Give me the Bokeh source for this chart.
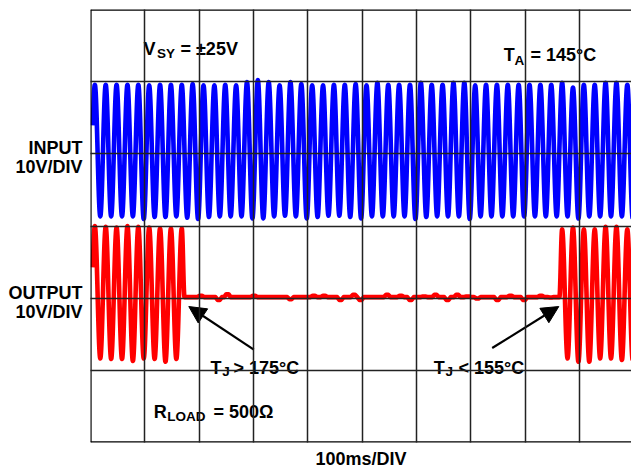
import numpy as np
from bokeh.plotting import figure
from bokeh.models import Label, BoxAnnotation, Arrow, NormalHead, Span, FixedTicker, Range1d
from bokeh.embed import file_html
from bokeh.resources import INLINE

# ---------------- data ----------------
PERIOD_MS = 20.0          # 50 Hz sine, 5 cycles per 100 ms division
FIRST_PEAK_MS = 8.0
TRACE_START_MS = 4.2
X_END_MS = 995.7          # the screen is cut at the right edge of the picture

# input trace (volts, relative to its ground line)
input_pre_trough_v = -8.65
input_peaks_v = [9.56, 9.56, 9.56, 9.56, 9.56, 9.47, 9.56, 9.56, 9.56, 9.65,
                 9.47, 9.47, 9.56, 9.47, 9.93, 10.2, 9.93, 9.47, 9.93, 9.65,
                 9.47, 9.47, 9.56, 9.56, 9.65, 9.47, 9.84, 9.56, 9.56, 9.56,
                 9.84, 9.56, 9.56, 9.84, 9.84, 9.47, 9.56, 9.56, 9.56, 9.56,
                 9.56, 9.56, 9.56, 9.84, 9.19, 9.56, 9.56, 9.84, 9.84, 9.56]
input_troughs_v = [-8.65, -8.65, -8.65, -8.65, -9.02, -8.74, -8.74, -8.65, -8.83, -9.02,
                   -8.74, -8.65, -8.65, -8.65, -8.93, -8.93, -8.65, -8.55, -8.65, -8.93,
                   -8.74, -8.55, -8.55, -8.74, -8.93, -8.65, -8.65, -8.65, -8.65, -9.02,
                   -8.74, -8.65, -8.65, -8.65, -9.02, -8.65, -8.65, -8.65, -8.65, -8.65,
                   -8.65, -8.65, -8.65, -8.65, -8.93, -8.65, -8.65, -8.65, -8.65, -8.93]

# output trace: running, thermal shutdown (flat), restart
out_pre_trough_v = -8.5
out_a_peaks_v = [9.97, 9.88, 9.79, 9.97, 9.88, 9.79, 9.65, 9.65, 9.65]
out_a_troughs_v = [-8.33, -8.42, -8.42, -8.7, -8.33, -8.42, -8.8, -8.42]
out_off_ms = 173.0
out_on_ms = 863.0
out_b_first_cycle = 43
out_b_peaks_v = [9.52, 9.79, 9.52, 9.52, 9.88, 9.88, 9.52]
out_b_troughs_v = [-8.33, -8.8, -8.8, -8.33, -8.33, -8.56, -8.56]
out_flat_v = 0.15
out_bump_ms = [203, 236, 252, 301, 368, 411, 430, 460, 485, 497, 546, 571, 589,
               614, 635, 657, 675, 694, 712, 749, 773, 798, 829, 847]
out_bump_v = [0.32, -0.23, 0.55, 0.32, -0.14, 0.32, 0.32, -0.23, 0.46, -0.23, 0.46, 0.32, -0.23,
              0.23, 0.46, -0.23, 0.46, 0.23, -0.05, -0.23, 0.32, -0.23, 0.32, 0.09]

INPUT_GROUND = 10.0    # screen position (V on the 6-div, 10 V/div screen)
OUTPUT_GROUND = -10.0

channel_label_y = [10.82, 8.20, -9.30, -11.85]
channel_label_text = ["INPUT", "10V/DIV", "OUTPUT", "10V/DIV"]

BLUE = "#0000FF"
RED = "#FF0000"
FONT = "Liberation Sans"


def eased_path(node_t, node_v, n=24):
    ts, vs = [node_t[0]], [node_v[0]]
    for i in range(len(node_t) - 1):
        s = np.linspace(0, 1, n + 1)[1:]
        ts.extend(node_t[i] + (node_t[i + 1] - node_t[i]) * s)
        vs.extend(node_v[i] + (node_v[i + 1] - node_v[i]) * (1 - np.cos(np.pi * s)) / 2)
    return np.array(ts), np.array(vs)


def nodes(first_cycle, peaks, troughs):
    t, v = [], []
    for k, pk in enumerate(peaks):
        t.append(FIRST_PEAK_MS + PERIOD_MS * (first_cycle + k))
        v.append(pk)
        if k < len(troughs):
            t.append(FIRST_PEAK_MS + PERIOD_MS * (first_cycle + k) + PERIOD_MS / 2)
            v.append(troughs[k])
    return t, v


# input
nt, nv = nodes(0, input_peaks_v, input_troughs_v)
nt = [FIRST_PEAK_MS - PERIOD_MS / 2] + nt
nv = [input_pre_trough_v] + nv
in_t, in_v = eased_path(nt, nv)
m = in_t >= TRACE_START_MS
in_t, in_v = in_t[m], in_v[m]

# output part A
at, av = nodes(0, out_a_peaks_v, out_a_troughs_v)
at = [FIRST_PEAK_MS - PERIOD_MS / 2] + at + [out_off_ms]
av = [out_pre_trough_v] + av + [out_flat_v]
a_t, a_v = eased_path(at, av)
m = a_t >= TRACE_START_MS
a_t, a_v = a_t[m], a_v[m]

# flat part (small ripple bumps on the flat line)
f_t, f_v = [], []
for bt, bv in zip(out_bump_ms, out_bump_v):
    f_t += [bt - 6, bt - 2, bt + 2, bt + 6]
    f_v += [out_flat_v, bv, bv, out_flat_v]

# output part B
bt_, bv_ = nodes(out_b_first_cycle, out_b_peaks_v, out_b_troughs_v)
bt_ = [out_on_ms] + bt_
bv_ = [out_flat_v] + bv_
b_t, b_v = eased_path(bt_, bv_)

out_t = np.concatenate([a_t, np.array(f_t), b_t])
out_v = np.concatenate([a_v, np.array(f_v), b_v])

# ---------------- figure ----------------
p = figure(width=631, height=471, output_backend="svg", toolbar_location=None,
           x_range=Range1d(0, X_END_MS), y_range=Range1d(-30, 30),
           min_border_left=90, min_border_right=0, min_border_top=9, min_border_bottom=28)
p.outline_line_color = None
p.background_fill_color = "white"
p.border_fill_color = "white"

# left axis carries the channel labels
p.yaxis.ticker = FixedTicker(ticks=channel_label_y)
p.yaxis.major_label_overrides = dict(zip(channel_label_y, channel_label_text))
p.yaxis.major_label_text_font = FONT
p.yaxis.major_label_text_font_style = "bold"
p.yaxis.major_label_text_font_size = "18px"
p.yaxis.major_label_text_color = "black"
p.yaxis.major_label_standoff = 8
p.yaxis.major_tick_line_color = None
p.yaxis.minor_tick_line_color = None
p.yaxis.major_tick_out = 0
p.yaxis.major_tick_in = 0
p.yaxis.axis_line_color = None

# bottom axis carries the time-base label only
p.xaxis.ticker = FixedTicker(ticks=[])
p.xaxis.major_tick_line_color = None
p.xaxis.minor_tick_line_color = None
p.xaxis.major_tick_out = 0
p.xaxis.major_tick_in = 0
p.xaxis.axis_line_color = None
p.xaxis.axis_label = "100ms/DIV"
p.xaxis.axis_label_text_font = FONT
p.xaxis.axis_label_text_font_style = "bold"
p.xaxis.axis_label_text_font_size = "18px"
p.xaxis.axis_label_text_color = "black"
p.xaxis.axis_label_standoff = 6

p.line(in_t, in_v + INPUT_GROUND, line_color=BLUE, line_width=4.6, line_join="round")
p.line(out_t, out_v + OUTPUT_GROUND, line_color=RED, line_width=4.6, line_join="round")

p.xgrid.ticker = FixedTicker(ticks=[100, 200, 300, 400, 500, 600, 700, 800, 900])
p.ygrid.ticker = FixedTicker(ticks=[-20, -10, 0, 10, 20])
for g in (p.xgrid, p.ygrid):
    g.grid_line_color = "#222222"
    g.grid_line_width = 1.5
    g.level = "overlay"

for loc, dim in ((0, "height"), (30, "width"), (-30, "width")):
    p.add_layout(Span(location=loc, dimension=dim, line_color="black", line_width=2.3))

# white boxes behind the annotation texts
for l, r, t, b in ((84.6, 285.3, 27.79, 23.36),
                   (749, 944, 27.65, 22.67),
                   (198.8, 404.9, -16.59, -22.12),
                   (607.4, 817.2, -16.59, -22.12),
                   (92, 353.4, -22.26, -27.79)):
    p.add_layout(BoxAnnotation(left=l, right=r, top=t, bottom=b,
                               fill_color="white", fill_alpha=1.0, line_color=None))


def txt(x, y, s, size="18px", align="left"):
    p.add_layout(Label(x=x, y=y, text=s, text_font=FONT, text_font_style="bold",
                       text_font_size=size, text_color="black",
                       text_align=align, text_baseline="alphabetic"))


SUB = "13.5px"
txt(97.5, 24.57, "V")
txt(122.4, 23.92, "SY", SUB)
txt(165.6, 24.57, "= \u00b125V")

txt(760.7, 23.64, "T")
txt(780.4, 22.95, "A", SUB)
txt(809.8, 23.64, "= 145\u00b0C")

txt(220.9, -19.66, "T")
txt(242.4, -20.14, "J", SUB)
txt(263.2, -19.66, "> 175\u00b0C")

txt(631.9, -19.66, "T")
txt(653.4, -20.14, "J", SUB)
txt(677.3, -19.66, "< 155\u00b0C")

txt(116.5, -25.71, "R")
txt(141.2, -26.36, "LOAD", SUB)
txt(226.4, -25.71, "= 500\u03a9")

for xs, ys, xe, ye in ((300.6, -17.14, 180.9, -11.16), (739.3, -16.91, 861.9, -11.16)):
    p.add_layout(Arrow(end=NormalHead(size=17, fill_color="black", line_color="black"),
                       x_start=xs, y_start=ys, x_end=xe, y_end=ye,
                       line_color="black", line_width=2.2))

open("out.html", "w").write(file_html(p, INLINE))
